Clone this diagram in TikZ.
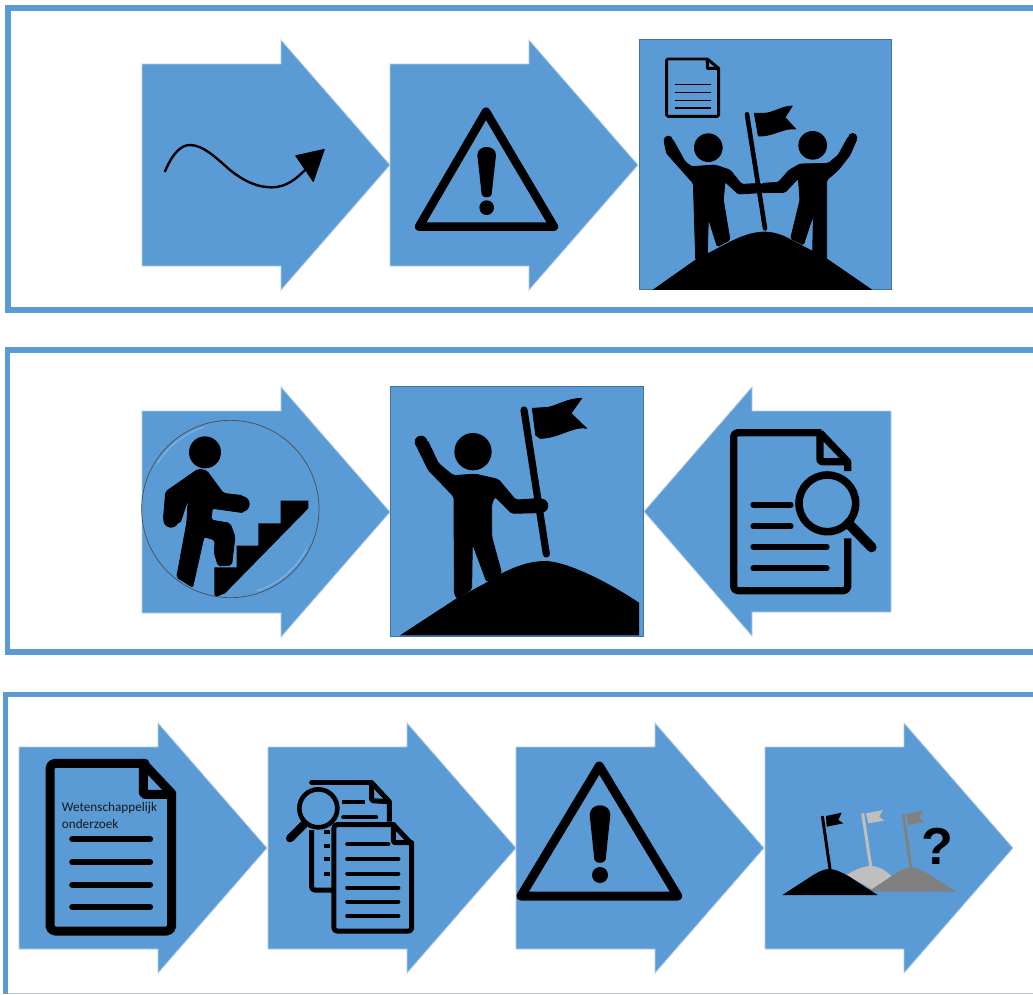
\documentclass[tikz,border=0pt]{standalone}
\usepackage{fontspec}
\setmainfont{Carlito}
\newfontfamily\qfont{Liberation Sans}
\definecolor{bluefill}{HTML}{5B9BD5}
\definecolor{blueedge}{HTML}{41719C}
\definecolor{softedge}{HTML}{B5CDE6}
\definecolor{hilite}{HTML}{7DB6EA}
\definecolor{greylight}{HTML}{BFBFBF}
\definecolor{greydark}{HTML}{808080}
\tikzset{
  framebar/.style={draw=bluefill,line width=5.5pt,line cap=butt,line join=miter},
  arrowshape/.style={fill=bluefill,draw=softedge,line width=.8pt,line join=miter},
  squareshape/.style={fill=bluefill,draw=blueedge,line width=.9pt},
  ink/.style={fill=black,draw=none},
  softink/.style={fill=black,draw=black,line width=.8pt,line join=round},
  pen/.style={draw=black,line cap=round,line join=round,fill=none},
  zoomed/.style={shift={#1},scale=1/3},
}
\newcommand{\rightarrowshape}[2]{%
  \path[arrowshape] (#1,#2+24) -- (#1+139,#2+24) -- (#1+139,#2) -- (#1+248,#2+125)
    -- (#1+139,#2+250) -- (#1+139,#2+226) -- (#1,#2+226) -- cycle;}
\begin{document}
\begin{tikzpicture}[x=1pt,y=-1pt]
\useasboundingbox (0,0) rectangle (1033,994);
\fill[white] (0,0) rectangle (1033,994);

% frames
\draw[framebar] (1033,8) -- (8,8) -- (8,310) -- (1033,310);
\draw[framebar] (1033,350) -- (7.5,350) -- (7.5,652) -- (1033,652);
\draw[framebar] (1033,694.5) -- (5.7,694.5) -- (5.7,994);
\draw[softedge,line width=1pt] (8,993.3) -- (1033,993.3);

% ---------- row 1
\rightarrowshape{142}{40}
\rightarrowshape{390}{40}
\path[squareshape] (639.5,39) rectangle (891,289.5);

% squiggle
\begin{scope}[zoomed={(140,90)}]
\draw[pen,line width=2.4pt,line cap=butt] (74,246) .. controls (100,185) and (125,165) .. (150,165)
  .. controls (190,165) and (230,205) .. (270,240)
  .. controls (320,280) and (360,292) .. (395,292)
  .. controls (440,292) and (470,265) .. (497,238);
\path[softink] (553,178) -- (467,197) -- (520,275) -- cycle;
\end{scope}

% warning 1
\begin{scope}[zoomed={(400,95)}]
\draw[pen,line width=8.5pt] (258,50) -- (462,395) -- (57,395) -- cycle;
\path[ink] (232,180) .. controls (232,148) and (288,148) .. (288,180)
  -- (275,298) .. controls (274,310) and (246,310) .. (245,298) -- cycle;
\fill (260,338) circle (22);
\end{scope}

% two climbers
\begin{scope}[zoomed={(630,30)}]
\begin{scope}
\clip (28,28) rectangle (783,778);
\path[ink] (60,785) -- (195,690) -- (300,635) .. controls (350,610) and (380,605) .. (405,605)
  .. controls (430,605) and (460,615) .. (482,628) -- (590,685) -- (735,785) -- cycle;
\end{scope}
\draw[pen,line width=4.6pt] (351,253) -- (405,595);
\path[softink] (373,250) -- (400,250) .. controls (430,250) and (455,228) .. (487,228)
  -- (465,262) -- (497,297) .. controls (460,292) and (430,320) .. (385,318) -- cycle;
\fill (235,353) circle (43);
\fill (548,346) circle (43);
\path[softink,rounded corners=1.5pt] (102,333) -- (128,328) -- (165,395) -- (185,410) -- (255,405)
  -- (300,420) -- (335,463) -- (395,460) -- (395,488) -- (325,492) -- (285,455) -- (280,510)
  -- (300,630) -- (262,650) -- (235,565) -- (232,675) -- (197,690) -- (190,460) -- (110,370) -- cycle;
\path[softink,rounded corners=1.5pt] (681,326) -- (655,320) -- (625,375) -- (595,400) -- (510,402)
  -- (478,420) -- (445,457) -- (395,460) -- (395,488) -- (465,487) -- (505,445) -- (510,510)
  -- (482,625) -- (520,645) -- (550,555) -- (548,670) -- (590,688) -- (590,450) -- (625,420) -- (660,375) -- cycle;
\fill (115,331) circle (14);
\fill (668,323) circle (14);
% small document
\draw[pen,line width=2.9pt] (232,87) -- (114,87) -- (110,90) -- (110,255) -- (114,259) -- (262,259) -- (266,255)
  -- (266,115) -- (232,87) -- (232,115) -- (266,115);
\foreach \yy in {163,187,211,234} \draw[black,line width=1.5pt] (134,\yy) -- (242,\yy);
\end{scope}

% ---------- row 2
\rightarrowshape{142}{387}
\path[arrowshape] (891,411) -- (752,411) -- (752,387) -- (644,511.5) -- (752,636) -- (752,612) -- (891,612) -- cycle;
\path[squareshape] (390.5,386) rectangle (643,636);

% stair climber
\begin{scope}[zoomed={(135,380)}]
\draw[draw=black!70,line width=.7pt,fill=bluefill] (286,387) circle (266);
\draw[hilite,line width=1pt] plot[domain=212:252,smooth] ({286+258*cos(\x)},{387+258*sin(\x)});
\draw[hilite,line width=1pt] plot[domain=28:72,smooth] ({286+258*cos(\x)},{387+258*sin(\x)});
\fill (210,217) circle (48);
\path[softink,rounded corners=2pt] (190,267) -- (215,272) -- (265,340) -- (325,347) -- (325,398)
  -- (232,385) -- (228,420) -- (285,430) -- (300,470) -- (290,555) -- (250,558) -- (238,520) -- (240,480)
  -- (207,470) -- (173,622) -- (125,592) -- (155,430) -- (160,355) -- (135,430) -- (85,420) -- (92,335) -- cycle;
\fill (320,372) circle (24);
\fill (108,420) circle (23);
\path[ink] (437,362) -- (520,362) -- (520,385) -- (270,640) -- (245,650) -- (238,645) -- (238,562) -- (305,562)
  -- (305,497) -- (370,497) -- (370,430) -- (437,430) -- cycle;
\end{scope}

% climber with flag
\begin{scope}[zoomed={(385,380)}]
\path[ink] (45,766) -- (215,655) -- (300,610) -- (350,580) .. controls (400,555) and (440,543) .. (480,543)
  .. controls (540,543) and (660,600) .. (762,668) -- (762,766) -- cycle;
\draw[pen,line width=7.2pt] (417,90) -- (484,522);
\path[softink] (442,85) -- (490,82) .. controls (520,75) and (550,55) .. (590,55) -- (558,100) -- (605,145)
  .. controls (570,135) and (520,175) .. (465,175) -- (452,165) -- cycle;
\fill (264,215) circle (56);
\path[softink,rounded corners=2pt] (90,188) -- (127,180) -- (160,250) -- (205,287) -- (270,282) -- (340,298)
  -- (392,360) -- (470,355) -- (470,398) -- (380,400) -- (330,350) -- (320,370) -- (320,470)
  -- (350,580) -- (305,605) -- (262,490) -- (260,628) -- (215,655) -- (208,640) -- (207,350) -- (130,270) -- cycle;
\fill (108,186) circle (19);
\fill (469,377) circle (21);
\end{scope}

% document with magnifier
\begin{scope}[zoomed={(700,410)}]
\draw[pen,line width=7.2pt,line cap=butt,rounded corners=4pt] (443,385) -- (443,542) -- (101,542) -- (101,68) -- (364,68);
\draw[pen,line width=7.2pt,line cap=butt] (360,68) -- (443,155) -- (443,183);
\draw[pen,line width=7.2pt,line cap=butt,rounded corners=2pt] (360,68) -- (360,155) -- (443,155);
\draw[black,line width=7.6pt] (382,280) circle (85);
\draw[pen,line width=10pt] (445,340) -- (515,412);
\foreach \yy/\xx in {284/272,349/272,410/380,475/380} \draw[pen,line width=6pt] (160,\yy) -- (\xx,\yy);
\end{scope}

% ---------- row 3
\rightarrowshape{19}{723}
\rightarrowshape{268}{723}
\rightarrowshape{516}{723}
\rightarrowshape{765}{723}

\begin{scope}[zoomed={(10,740)}]
% big document
\draw[pen,line width=9pt,rounded corners=5pt] (405,70) -- (120,70) -- (120,573) -- (485,573) -- (485,160);
\draw[pen,line width=9pt,line join=round] (400,70) -- (485,160);
\draw[pen,line width=9pt,rounded corners=2pt] (400,70) -- (400,163) -- (485,163);
\foreach \yy in {298,367,434,501} \draw[pen,line width=6.3pt] (187,\yy) -- (420,\yy);
\node[anchor=base west,inner sep=0pt,font=\fontsize{13.2pt}{16.6pt}\selectfont,align=left,text=black!90] (doctext) at (155,265) {Wetenschappelijk\\onderzoek};
% back document
\draw[pen,line width=5pt] (905,128) -- (1085,128);
\draw[pen,line width=5pt,line cap=butt] (1085,128) -- (1138,185) -- (1138,245);
\draw[pen,line width=5pt,line cap=butt,rounded corners=1.5pt] (1085,128) -- (1085,182) -- (1138,185);
\draw[pen,line width=5pt,line cap=butt,rounded corners=3pt] (905,270) -- (905,450) -- (975,450);
\draw[pen,line width=4.3pt,line cap=butt] (997,187) -- (1065,187);
\draw[pen,line width=4.3pt] (1000,232) -- (1098,232);
\foreach \yy in {275,318,358,402} \draw[black,line width=4pt] (943,\yy) -- (960,\yy);
\draw[black,line width=4.6pt] (925,205) circle (57);
\draw[pen,line width=8pt] (882,253) -- (840,295);
% front document
\path[fill=bluefill] (972,254) rectangle (1205,573);
\draw[pen,line width=5pt,rounded corners=3pt] (1152,254) -- (972,254) -- (972,573) -- (1205,573) -- (1205,312);
\draw[pen,line width=5pt] (1150,254) -- (1205,312);
\draw[pen,line width=5pt,rounded corners=1.5pt] (1150,254) -- (1150,308) -- (1205,308);
\draw[pen,line width=4.3pt] (1012,313) -- (1135,313);
\foreach \yy in {357,401,443,485,528} \draw[pen,line width=4.3pt] (1012,\yy) -- (1165,\yy);
\end{scope}

% warning 2
\begin{scope}[zoomed={(505,750)}]
\draw[pen,line width=9pt] (283,48) -- (518,438) -- (48,438) -- cycle;
\path[ink] (254,195) .. controls (254,156) and (316,156) .. (316,195)
  -- (302,328) .. controls (301,342) and (269,342) .. (268,328) -- cycle;
\fill (285,375) circle (24);
\end{scope}

% hills and flags
\begin{scope}[zoomed={(770,790)}]
\draw[greylight,line width=3pt] (278,70) -- (302,228);
\path[fill=greylight] (288,70) -- (338,60) -- (328,80) -- (342,92) -- (295,100) -- cycle;
\path[fill=greylight] (230,255) .. controls (260,235) and (285,228) .. (305,228) .. controls (325,228) and (345,240) .. (365,258) -- (310,300) -- cycle;
\draw[greydark,line width=3pt] (400,73) -- (422,233);
\path[fill=greydark] (408,72) -- (458,62) -- (448,82) -- (462,95) -- (415,105) -- cycle;
\path[fill=greydark] (295,305) -- (370,255) .. controls (395,238) and (410,233) .. (425,233) .. controls (445,233) and (460,243) .. (480,255) -- (558,305) -- cycle;
\path[ink] (37,315) -- (125,258) .. controls (150,242) and (165,237) .. (178,237) .. controls (195,237) and (215,247) .. (235,258) -- (323,315) -- cycle;
\draw[black,line width=3pt] (157,78) -- (180,237);
\path[ink] (168,78) -- (215,68) -- (205,90) -- (220,100) -- (170,110) -- cycle;
\node[inner sep=0pt,font=\qfont\bfseries\fontsize{52pt}{52pt}\selectfont] (question) at (503,168) {?};
\end{scope}
\end{tikzpicture}
\end{document}
